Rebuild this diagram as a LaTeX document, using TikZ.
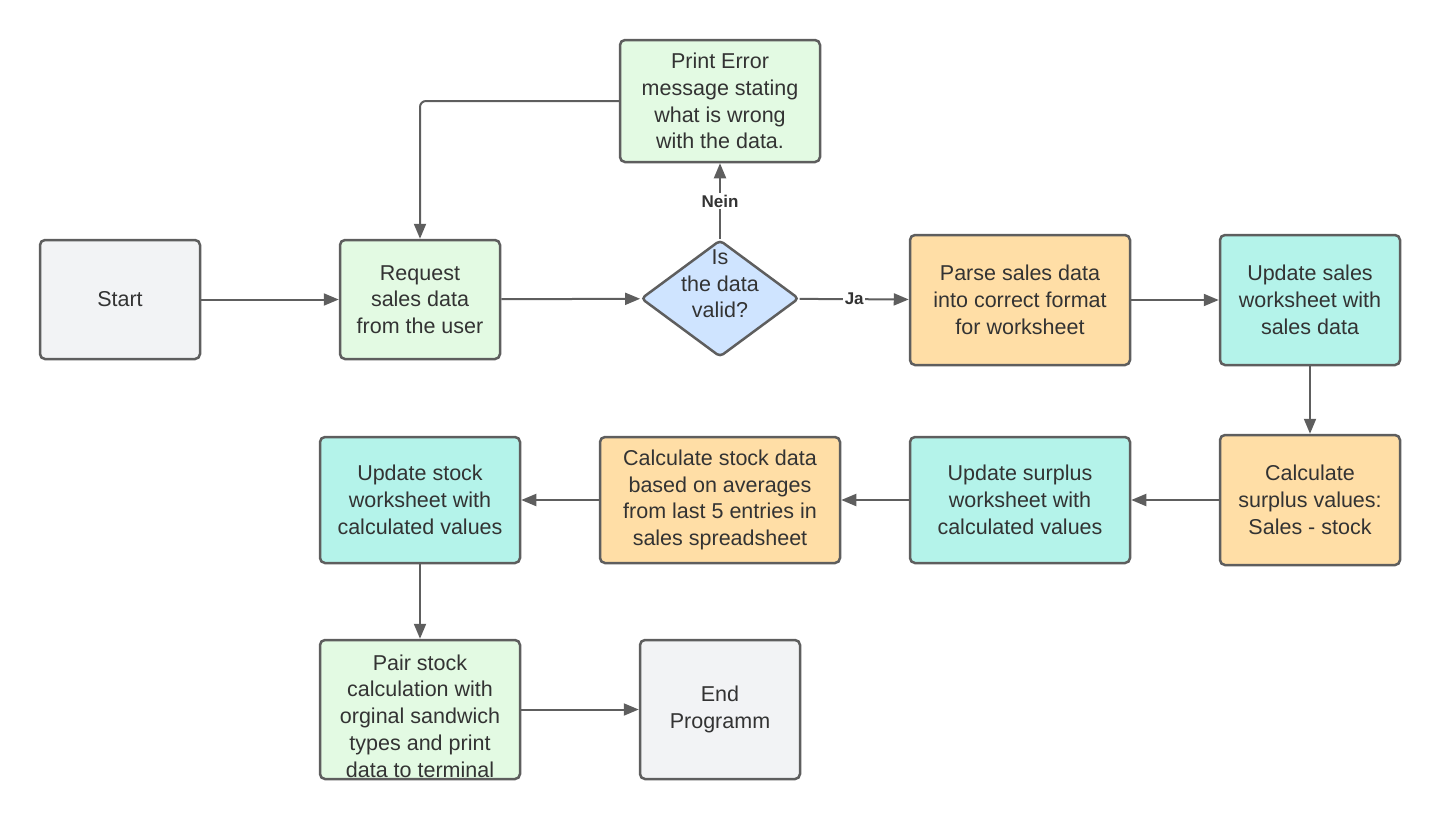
\documentclass[tikz,border=0pt]{standalone}
\usepackage{fontspec}
\setmainfont{Liberation Sans}
\usetikzlibrary{shapes.geometric,arrows.meta}
\definecolor{edgec}{HTML}{5E5E5E}
\definecolor{textc}{HTML}{333333}
\definecolor{grayf}{HTML}{F2F3F5}
\definecolor{greenf}{HTML}{E3FAE3}
\definecolor{bluef}{HTML}{CFE4FF}
\definecolor{orangef}{HTML}{FFDEA6}
\definecolor{tealf}{HTML}{B4F3EA}
\tikzset{
  box/.style={draw=edgec, line width=2.5pt, rounded corners=5pt, align=center,
    text=textc, font=\fontsize{21.5}{26.7}\selectfont, inner sep=0pt},
  txt/.style={align=center, text=textc, font=\fontsize{21.5}{26.7}\selectfont, inner sep=0pt},
  arr/.style={draw=edgec, line width=2pt, -{Triangle[length=15pt,width=12pt]}},
  lbl/.style={fill=white, inner sep=1.5pt, text=textc, font=\fontsize{17}{19}\selectfont\bfseries},
}
\begin{document}
\begin{tikzpicture}[x=1pt,y=-1pt]
\useasboundingbox (0,0) rectangle (1440,820);
\node[box, fill=grayf, minimum width=160pt, minimum height=119pt] (start) at (120,299.5) {Start};
\node[box, fill=greenf, minimum width=160pt, minimum height=119pt] (req) at (420,299.5) {Request\\sales data\\from the user};
\node[draw=edgec, line width=2.5pt, fill=bluef, diamond, rounded corners=4pt, inner sep=0pt, minimum width=158pt, minimum height=117pt] (dec) at (720,298.5) {};
\node[txt] (dectext) at (720,284) {Is\\the data\\valid?};
\node[box, fill=greenf, minimum width=200pt, minimum height=122pt] (err) at (720,101) {Print Error\\message stating\\what is wrong\\with the data.};
\node[box, fill=orangef, minimum width=220pt, minimum height=130pt] (parse) at (1020,300) {Parse sales data\\into correct format\\for worksheet};
\node[box, fill=tealf, minimum width=180pt, minimum height=130pt] (upsales) at (1310,300) {Update sales\\worksheet with\\sales data};
\node[box, fill=orangef, minimum width=180pt, minimum height=130pt] (calcsur) at (1310,500) {Calculate\\surplus values:\\Sales - stock};
\node[box, fill=tealf, minimum width=220pt, minimum height=126pt] (upsur) at (1020,500) {Update surplus\\worksheet with\\calculated values};
\node[box, fill=orangef, minimum width=240pt, minimum height=126pt] (calcstock) at (720,500) {Calculate stock data\\based on averages\\from last 5 entries in\\sales spreadsheet};
\node[box, fill=tealf, minimum width=200pt, minimum height=126pt] (upstock) at (420,500) {Update stock\\worksheet with\\calculated values};
\node[box, fill=greenf, minimum width=200pt, minimum height=139pt] (pair) at (420,709.5) {};
\node[txt] (pairtext) at (420,716) {Pair stock\\calculation with\\orginal sandwich\\types and print\\data to terminal};
\node[box, fill=grayf, minimum width=160pt, minimum height=139pt] (end) at (720,709.5) {End\\Programm};

\draw[arr] (start) -- (req);
\draw[arr] (req) -- (dec);
\draw[arr] (dec) -- node[lbl] (ja) {Ja} (parse);
\draw[arr] (dec) -- node[lbl] (nein) {Nein} (err);
\draw[arr, rounded corners=6pt] (err.west) -| (req.north);
\draw[arr] (parse) -- (upsales);
\draw[arr] (upsales) -- (calcsur);
\draw[arr] (calcsur) -- (upsur);
\draw[arr] (upsur) -- (calcstock);
\draw[arr] (calcstock) -- (upstock);
\draw[arr] (upstock) -- (pair);
\draw[arr] (pair.east |- end.west) -- (end.west);
\end{tikzpicture}
\end{document}
